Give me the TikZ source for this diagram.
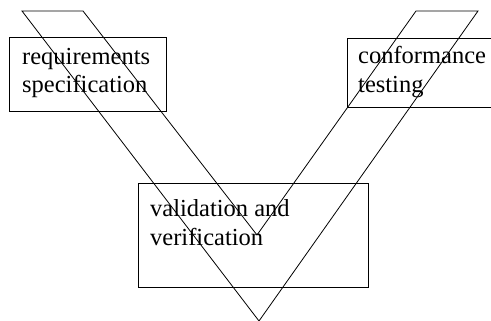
\documentclass[tikz,border=0pt]{standalone}
\usepackage{fontspec}
\setmainfont{Liberation Serif}
\begin{document}
\begin{tikzpicture}[x=1pt, y=-1pt,
  box/.style={draw, line width=0.9pt, inner sep=0pt, anchor=north west},
  lbl/.style={inner sep=0pt, anchor=base west, font=\fontsize{24.5}{29}\selectfont},
  vee/.style={line width=0.8pt, line join=miter}]
\useasboundingbox (0,0) rectangle (491,321);
\clip (0,0) rectangle (491,321);

% phase boxes
\node[box, minimum width=157pt, minimum height=74pt] (reqbox) at (9,37) {};
\node[box, minimum width=160pt, minimum height=69pt] (confbox) at (347,38) {};
\node[box, minimum width=230pt, minimum height=104pt] (valbox) at (138,183) {};

% labels
\node[lbl] (req1) at (22,65) {requirements};
\node[lbl] (req2) at (22,93) {specification};
\node[lbl] (conf1) at (358,64) {conformance};
\node[lbl] (conf2) at (358,93) {testing};
\node[lbl] (val1) at (150,216) {validation and};
\node[lbl] (val2) at (150,245) {verification};

% the V band
\coordinate (otl) at (22,11);
\coordinate (itl) at (83,11);
\coordinate (inner) at (257,235);
\coordinate (itr) at (416,11);
\coordinate (otr) at (478,11);
\coordinate (outer) at (259,321);
\draw[vee] (otl) -- (itl) -- (inner) -- (itr) -- (otr) -- (outer) -- cycle;
\end{tikzpicture}
\end{document}
